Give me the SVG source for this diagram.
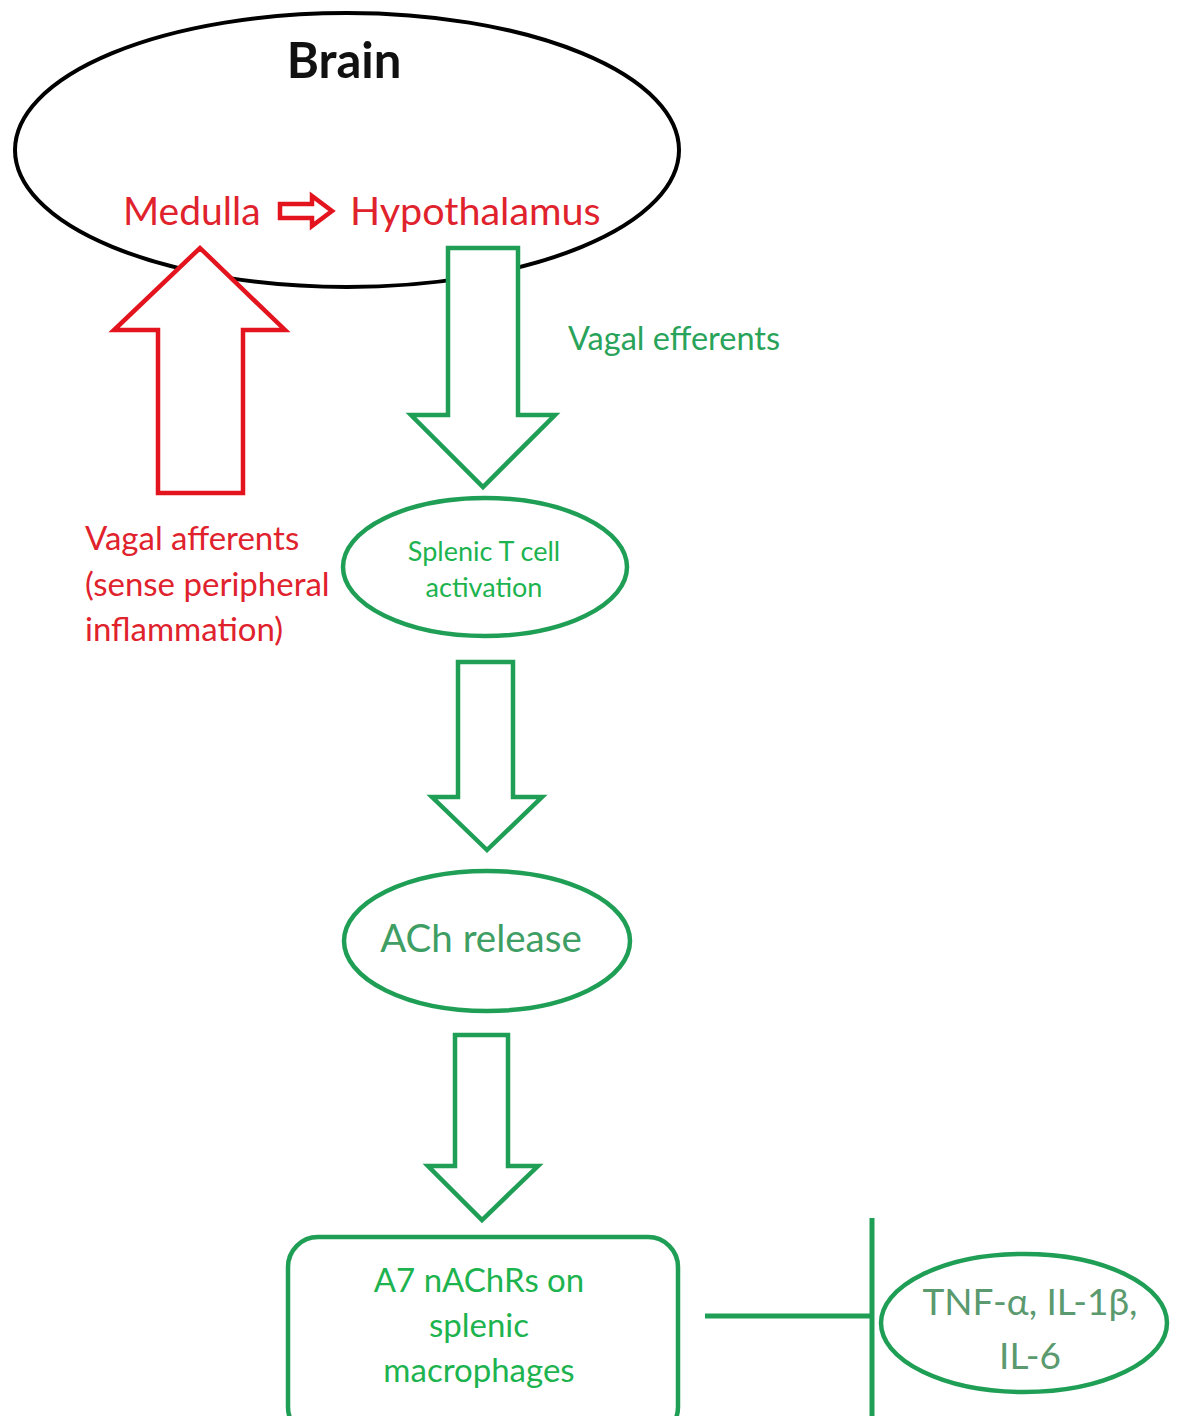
<svg xmlns="http://www.w3.org/2000/svg" width="1181" height="1416" viewBox="0 0 1181 1416">
<style>
.g{fill:none;stroke:#1f9e55;stroke-width:4.5}
.ga{fill:#fff;stroke:#1f9e55;stroke-width:4.5;stroke-linejoin:miter}
.r{fill:#fff;stroke:#e3141e;stroke-width:4.5}
.t{font-family:Lato,"Open Sans","Liberation Sans",sans-serif}
.gt{fill:#1db34f}
.rt{fill:#e0222d}
</style>
<rect width="1181" height="1416" fill="#fff"/>
<g id="brain">
<ellipse cx="347" cy="150" rx="332" ry="137" fill="none" stroke="#000" stroke-width="4"/>
<text class="t" x="344" y="78" font-size="49" font-weight="bold" text-anchor="middle" fill="#111">Brain</text>
<text class="t rt" x="123" y="225" font-size="39">Medulla</text>
<path class="r" d="M280,204 H312 V196 L332,211 L312,226 V218 H280 Z" stroke-width="4"/>
<text class="t rt" x="350" y="225" font-size="39.5">Hypothalamus</text>
</g>
<g id="connectors">
<path class="r" d="M200,248 L285,330 L243,330 L243,493 L158,493 L158,330 L114,330 Z"/>
<path class="ga" d="M448,248 L518,248 L518,415 L555,415 L483,487 L411,415 L448,415 Z"/>
<path class="ga" d="M458,662 L513,662 L513,797 L542,797 L487,850 L432,797 L458,797 Z"/>
<path class="ga" d="M455,1035 L508,1035 L508,1166 L538,1166 L482,1220 L428,1166 L455,1166 Z"/>
<line x1="705" y1="1316" x2="872" y2="1316" stroke="#1f9e55" stroke-width="5"/>
<line x1="872" y1="1218" x2="872" y2="1416" stroke="#1f9e55" stroke-width="5"/>
</g>
<g id="label-efferents">
<text class="t" x="568" y="350" font-size="32.5" fill="#2aa35a">Vagal efferents</text>
</g>
<g id="label-afferents">
<text class="t rt" x="85" y="550" font-size="33">Vagal afferents</text>
<text class="t rt" x="85" y="596" font-size="33">(sense peripheral</text>
<text class="t rt" x="85" y="641" font-size="33">inflammation)</text>
</g>
<g id="splenic">
<ellipse class="g" cx="485" cy="567" rx="142" ry="69"/>
<text class="t gt" x="484" y="561" font-size="27" text-anchor="middle">Splenic T cell</text>
<text class="t gt" x="484" y="597" font-size="27" text-anchor="middle">activation</text>
</g>
<g id="ach">
<ellipse class="g" cx="487" cy="941" rx="143" ry="70"/>
<text class="t" x="481" y="952" font-size="38.5" text-anchor="middle" fill="#3e9e64">ACh release</text>
</g>
<g id="a7">
<rect class="g" x="288" y="1237" width="390" height="200" rx="30"/>
<text class="t gt" x="479" y="1292" font-size="33" text-anchor="middle">A7 nAChRs on</text>
<text class="t gt" x="479" y="1337" font-size="33" text-anchor="middle">splenic</text>
<text class="t gt" x="479" y="1382" font-size="33" text-anchor="middle">macrophages</text>
</g>
<g id="cytokines">
<ellipse class="g" cx="1024" cy="1323" rx="143" ry="69"/>
<text class="t" x="1030" y="1315" font-size="37" text-anchor="middle" fill="#5a9a6e">TNF-α, IL-1β,</text>
<text class="t" x="1030" y="1369" font-size="37" text-anchor="middle" fill="#5a9a6e">IL-6</text>
</g>
</svg>
